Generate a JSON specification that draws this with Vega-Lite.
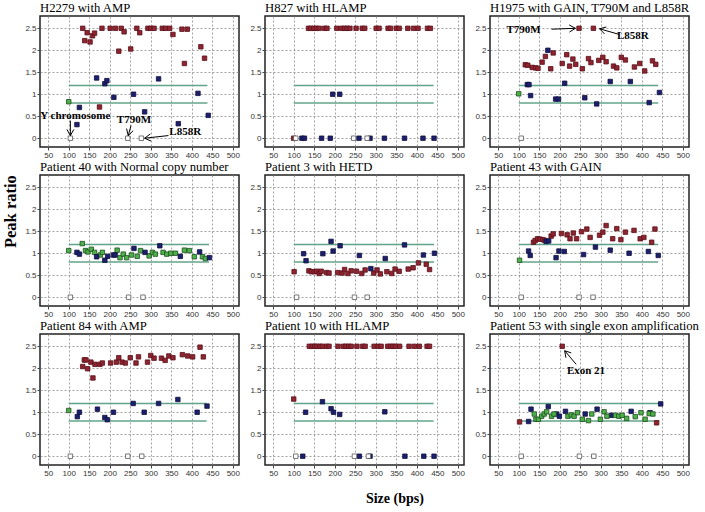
{
"$schema": "https://vega.github.io/schema/vega-lite/v6.json",
"background": "white",
"padding": {"left": 2, "top": 1, "right": 0, "bottom": 0},
"title": {"text": "Peak ratio", "orient": "left", "anchor": "middle", "font": "Liberation Serif", "fontSize": 16.5, "fontWeight": "bold", "color": "black", "offset": 5, "dx": 42},
"vconcat": [{
"data": {"values": [
{"p":"H2279 with AMP","k":"band","x":100,"x2":438,"y":1.2},
{"p":"H2279 with AMP","k":"band","x":100,"x2":438,"y":0.8},
{"p":"H2279 with AMP","k":"r","x":134,"y":2.5},{"p":"H2279 with AMP","k":"r","x":139,"y":2.22},{"p":"H2279 with AMP","k":"r","x":145,"y":2.4},{"p":"H2279 with AMP","k":"r","x":152,"y":2.19},{"p":"H2279 with AMP","k":"r","x":158,"y":2.33},{"p":"H2279 with AMP","k":"r","x":163,"y":2.39},{"p":"H2279 with AMP","k":"r","x":181,"y":2.5},{"p":"H2279 with AMP","k":"r","x":201,"y":2.5},{"p":"H2279 with AMP","k":"r","x":214,"y":2.5},{"p":"H2279 with AMP","k":"r","x":228,"y":2.5},{"p":"H2279 with AMP","k":"r","x":235,"y":2.42},{"p":"H2279 with AMP","k":"r","x":222,"y":1.98},{"p":"H2279 with AMP","k":"r","x":251,"y":2.03},{"p":"H2279 with AMP","k":"r","x":266,"y":2.5},{"p":"H2279 with AMP","k":"r","x":273,"y":2.4},{"p":"H2279 with AMP","k":"r","x":293,"y":2.5},{"p":"H2279 with AMP","k":"r","x":300,"y":2.5},{"p":"H2279 with AMP","k":"r","x":308,"y":2.5},{"p":"H2279 with AMP","k":"r","x":328,"y":2.5},{"p":"H2279 with AMP","k":"r","x":336,"y":2.5},{"p":"H2279 with AMP","k":"r","x":346,"y":2.5},{"p":"H2279 with AMP","k":"r","x":354,"y":2.36},{"p":"H2279 with AMP","k":"r","x":376,"y":2.48},{"p":"H2279 with AMP","k":"r","x":389,"y":2.48},{"p":"H2279 with AMP","k":"r","x":382,"y":1.7},{"p":"H2279 with AMP","k":"r","x":422,"y":2.08},{"p":"H2279 with AMP","k":"r","x":431,"y":1.82},{"p":"H2279 with AMP","k":"r","x":175,"y":0.71},
{"p":"H2279 with AMP","k":"b","x":168,"y":1.37},{"p":"H2279 with AMP","k":"b","x":188,"y":1.24},{"p":"H2279 with AMP","k":"b","x":193,"y":1.31},{"p":"H2279 with AMP","k":"b","x":210,"y":0.93},{"p":"H2279 with AMP","k":"b","x":258,"y":1.0},{"p":"H2279 with AMP","k":"b","x":319,"y":1.35},{"p":"H2279 with AMP","k":"b","x":285,"y":0.6},{"p":"H2279 with AMP","k":"b","x":126,"y":0.7},{"p":"H2279 with AMP","k":"b","x":120,"y":0.31},{"p":"H2279 with AMP","k":"b","x":367,"y":0.33},{"p":"H2279 with AMP","k":"b","x":415,"y":1.02},{"p":"H2279 with AMP","k":"b","x":440,"y":0.52},
{"p":"H2279 with AMP","k":"g","x":100,"y":0.83},
{"p":"H2279 with AMP","k":"o","x":104,"y":0},{"p":"H2279 with AMP","k":"o","x":244,"y":0},{"p":"H2279 with AMP","k":"o","x":277,"y":0},
{"p":"H2279 with AMP","k":"t","x":116,"y":0.5,"t":"Y chromosome"},
{"p":"H2279 with AMP","k":"t","x":259,"y":0.41,"t":"T790M"},
{"p":"H2279 with AMP","k":"t","x":384,"y":0.14,"t":"L858R"},
{"p":"H2279 with AMP","k":"a","x":104,"y":0.4,"x2":104,"y2":0.06},
{"p":"H2279 with AMP","k":"a","x":104,"y":0.06,"x2":95.5,"y2":0.2},
{"p":"H2279 with AMP","k":"a","x":104,"y":0.06,"x2":112.5,"y2":0.2},
{"p":"H2279 with AMP","k":"a","x":252,"y":0.29,"x2":245,"y2":0.06},
{"p":"H2279 with AMP","k":"a","x":245,"y":0.06,"x2":257,"y2":0.17},
{"p":"H2279 with AMP","k":"a","x":245,"y":0.06,"x2":241,"y2":0.22},
{"p":"H2279 with AMP","k":"a","x":343,"y":0.06,"x2":285,"y2":0},
{"p":"H2279 with AMP","k":"a","x":285,"y":0,"x2":300.6,"y2":-0.065},
{"p":"H2279 with AMP","k":"a","x":285,"y":0,"x2":298.7,"y2":0.096},

{"p":"H827 with HLAMP","k":"band","x":100,"x2":441,"y":1.2},
{"p":"H827 with HLAMP","k":"band","x":100,"x2":441,"y":0.8},
{"p":"H827 with HLAMP","k":"r","x":136,"y":2.5},{"p":"H827 with HLAMP","k":"r","x":142,"y":2.5},{"p":"H827 with HLAMP","k":"r","x":149,"y":2.5},{"p":"H827 with HLAMP","k":"r","x":155,"y":2.5},{"p":"H827 with HLAMP","k":"r","x":162,"y":2.5},{"p":"H827 with HLAMP","k":"r","x":175,"y":2.5},{"p":"H827 with HLAMP","k":"r","x":181,"y":2.5},{"p":"H827 with HLAMP","k":"r","x":205,"y":2.5},{"p":"H827 with HLAMP","k":"r","x":217,"y":2.5},{"p":"H827 with HLAMP","k":"r","x":224,"y":2.5},{"p":"H827 with HLAMP","k":"r","x":230,"y":2.5},{"p":"H827 with HLAMP","k":"r","x":237,"y":2.5},{"p":"H827 with HLAMP","k":"r","x":252,"y":2.5},{"p":"H827 with HLAMP","k":"r","x":267,"y":2.5},{"p":"H827 with HLAMP","k":"r","x":273,"y":2.5},{"p":"H827 with HLAMP","k":"r","x":301,"y":2.5},{"p":"H827 with HLAMP","k":"r","x":308,"y":2.5},{"p":"H827 with HLAMP","k":"r","x":330,"y":2.5},{"p":"H827 with HLAMP","k":"r","x":336,"y":2.5},{"p":"H827 with HLAMP","k":"r","x":350,"y":2.5},{"p":"H827 with HLAMP","k":"r","x":357,"y":2.5},{"p":"H827 with HLAMP","k":"r","x":378,"y":2.5},{"p":"H827 with HLAMP","k":"r","x":392,"y":2.5},{"p":"H827 with HLAMP","k":"r","x":403,"y":2.5},{"p":"H827 with HLAMP","k":"r","x":426,"y":2.5},{"p":"H827 with HLAMP","k":"r","x":433,"y":2.5},{"p":"H827 with HLAMP","k":"r","x":100,"y":0},
{"p":"H827 with HLAMP","k":"b","x":195,"y":1},{"p":"H827 with HLAMP","k":"b","x":212,"y":1},{"p":"H827 with HLAMP","k":"b","x":120,"y":0},{"p":"H827 with HLAMP","k":"b","x":126,"y":0},{"p":"H827 with HLAMP","k":"b","x":168,"y":0},{"p":"H827 with HLAMP","k":"b","x":189,"y":0},{"p":"H827 with HLAMP","k":"b","x":259,"y":0},{"p":"H827 with HLAMP","k":"b","x":286,"y":0},{"p":"H827 with HLAMP","k":"b","x":321,"y":0},{"p":"H827 with HLAMP","k":"b","x":370,"y":0},{"p":"H827 with HLAMP","k":"b","x":415,"y":0},{"p":"H827 with HLAMP","k":"b","x":442,"y":0},
{"p":"H827 with HLAMP","k":"o","x":105,"y":0},{"p":"H827 with HLAMP","k":"o","x":246,"y":0},{"p":"H827 with HLAMP","k":"o","x":279,"y":0},

{"p":"H1975 with GAIN, T790M and L858R","k":"band","x":100,"x2":440,"y":1.2},
{"p":"H1975 with GAIN, T790M and L858R","k":"band","x":100,"x2":440,"y":0.8},
{"p":"H1975 with GAIN, T790M and L858R","k":"r","x":247,"y":2.5},{"p":"H1975 with GAIN, T790M and L858R","k":"r","x":282,"y":2.5},{"p":"H1975 with GAIN, T790M and L858R","k":"r","x":116,"y":1.67},{"p":"H1975 with GAIN, T790M and L858R","k":"r","x":122,"y":1.66},{"p":"H1975 with GAIN, T790M and L858R","k":"r","x":133,"y":1.61},{"p":"H1975 with GAIN, T790M and L858R","k":"r","x":141,"y":1.6},{"p":"H1975 with GAIN, T790M and L858R","k":"r","x":147,"y":1.59},{"p":"H1975 with GAIN, T790M and L858R","k":"r","x":157,"y":1.73},{"p":"H1975 with GAIN, T790M and L858R","k":"r","x":165,"y":1.86},{"p":"H1975 with GAIN, T790M and L858R","k":"r","x":178,"y":1.58},{"p":"H1975 with GAIN, T790M and L858R","k":"r","x":184,"y":1.94},{"p":"H1975 with GAIN, T790M and L858R","k":"r","x":206,"y":1.7},{"p":"H1975 with GAIN, T790M and L858R","k":"r","x":217,"y":1.9},{"p":"H1975 with GAIN, T790M and L858R","k":"r","x":224,"y":1.64},{"p":"H1975 with GAIN, T790M and L858R","k":"r","x":232,"y":1.8},{"p":"H1975 with GAIN, T790M and L858R","k":"r","x":239,"y":1.68},{"p":"H1975 with GAIN, T790M and L858R","k":"r","x":255,"y":1.58},{"p":"H1975 with GAIN, T790M and L858R","k":"r","x":270,"y":1.81},{"p":"H1975 with GAIN, T790M and L858R","k":"r","x":276,"y":1.72},{"p":"H1975 with GAIN, T790M and L858R","k":"r","x":295,"y":1.77},{"p":"H1975 with GAIN, T790M and L858R","k":"r","x":305,"y":1.84},{"p":"H1975 with GAIN, T790M and L858R","k":"r","x":313,"y":1.74},{"p":"H1975 with GAIN, T790M and L858R","k":"r","x":331,"y":1.64},{"p":"H1975 with GAIN, T790M and L858R","k":"r","x":339,"y":1.6},{"p":"H1975 with GAIN, T790M and L858R","k":"r","x":350,"y":1.84},{"p":"H1975 with GAIN, T790M and L858R","k":"r","x":360,"y":1.78},{"p":"H1975 with GAIN, T790M and L858R","k":"r","x":382,"y":1.62},{"p":"H1975 with GAIN, T790M and L858R","k":"r","x":395,"y":1.7},{"p":"H1975 with GAIN, T790M and L858R","k":"r","x":407,"y":1.53},{"p":"H1975 with GAIN, T790M and L858R","k":"r","x":426,"y":1.76},{"p":"H1975 with GAIN, T790M and L858R","k":"r","x":434,"y":1.68},
{"p":"H1975 with GAIN, T790M and L858R","k":"b","x":121,"y":1.22},{"p":"H1975 with GAIN, T790M and L858R","k":"b","x":125,"y":1.22},{"p":"H1975 with GAIN, T790M and L858R","k":"b","x":129,"y":0.97},{"p":"H1975 with GAIN, T790M and L858R","k":"b","x":171,"y":2.0},{"p":"H1975 with GAIN, T790M and L858R","k":"b","x":190,"y":0.89},{"p":"H1975 with GAIN, T790M and L858R","k":"b","x":197,"y":0.89},{"p":"H1975 with GAIN, T790M and L858R","k":"b","x":212,"y":1.25},{"p":"H1975 with GAIN, T790M and L858R","k":"b","x":261,"y":0.92},{"p":"H1975 with GAIN, T790M and L858R","k":"b","x":290,"y":0.78},{"p":"H1975 with GAIN, T790M and L858R","k":"b","x":323,"y":1.29},{"p":"H1975 with GAIN, T790M and L858R","k":"b","x":372,"y":1.29},{"p":"H1975 with GAIN, T790M and L858R","k":"b","x":418,"y":0.81},{"p":"H1975 with GAIN, T790M and L858R","k":"b","x":443,"y":1.04},
{"p":"H1975 with GAIN, T790M and L858R","k":"g","x":100,"y":1.01},
{"p":"H1975 with GAIN, T790M and L858R","k":"o","x":106,"y":0},
{"p":"H1975 with GAIN, T790M and L858R","k":"t","x":112,"y":2.47,"t":"T790M"},
{"p":"H1975 with GAIN, T790M and L858R","k":"t","x":378,"y":2.33,"t":"L858R"},
{"p":"H1975 with GAIN, T790M and L858R","k":"a","x":180,"y":2.48,"x2":238,"y2":2.5},
{"p":"H1975 with GAIN, T790M and L858R","k":"a","x":238,"y":2.5,"x2":223,"y2":2.576},
{"p":"H1975 with GAIN, T790M and L858R","k":"a","x":238,"y":2.5,"x2":223.6,"y2":2.414},
{"p":"H1975 with GAIN, T790M and L858R","k":"a","x":345,"y":2.36,"x2":297,"y2":2.49},
{"p":"H1975 with GAIN, T790M and L858R","k":"a","x":297,"y":2.49,"x2":309,"y2":2.374},
{"p":"H1975 with GAIN, T790M and L858R","k":"a","x":297,"y":2.49,"x2":313.5,"y2":2.53},

{"p":"Patient 40 with Normal copy number","k":"band","x":100,"x2":442,"y":1.2},
{"p":"Patient 40 with Normal copy number","k":"band","x":100,"x2":442,"y":0.8},
{"p":"Patient 40 with Normal copy number","k":"g","x":100,"y":1.06},{"p":"Patient 40 with Normal copy number","k":"g","x":133,"y":1.22},{"p":"Patient 40 with Normal copy number","k":"g","x":141,"y":1.06},{"p":"Patient 40 with Normal copy number","k":"g","x":147,"y":1.03},{"p":"Patient 40 with Normal copy number","k":"g","x":155,"y":1.09},{"p":"Patient 40 with Normal copy number","k":"g","x":163,"y":1.02},{"p":"Patient 40 with Normal copy number","k":"g","x":177,"y":0.96},{"p":"Patient 40 with Normal copy number","k":"g","x":182,"y":1.02},{"p":"Patient 40 with Normal copy number","k":"g","x":218,"y":1.07},{"p":"Patient 40 with Normal copy number","k":"g","x":225,"y":0.9},{"p":"Patient 40 with Normal copy number","k":"g","x":233,"y":0.98},{"p":"Patient 40 with Normal copy number","k":"g","x":241,"y":0.9},{"p":"Patient 40 with Normal copy number","k":"g","x":253,"y":0.96},{"p":"Patient 40 with Normal copy number","k":"g","x":267,"y":0.93},{"p":"Patient 40 with Normal copy number","k":"g","x":275,"y":1.06},{"p":"Patient 40 with Normal copy number","k":"g","x":296,"y":0.94},{"p":"Patient 40 with Normal copy number","k":"g","x":304,"y":1.02},{"p":"Patient 40 with Normal copy number","k":"g","x":311,"y":0.98},{"p":"Patient 40 with Normal copy number","k":"g","x":330,"y":1.02},{"p":"Patient 40 with Normal copy number","k":"g","x":339,"y":0.98},{"p":"Patient 40 with Normal copy number","k":"g","x":349,"y":1.0},{"p":"Patient 40 with Normal copy number","k":"g","x":360,"y":1.0},{"p":"Patient 40 with Normal copy number","k":"g","x":382,"y":1.07},{"p":"Patient 40 with Normal copy number","k":"g","x":394,"y":1.06},{"p":"Patient 40 with Normal copy number","k":"g","x":406,"y":0.92},{"p":"Patient 40 with Normal copy number","k":"g","x":426,"y":0.92},{"p":"Patient 40 with Normal copy number","k":"g","x":433,"y":0.88},
{"p":"Patient 40 with Normal copy number","k":"b","x":120,"y":1.02},{"p":"Patient 40 with Normal copy number","k":"b","x":126,"y":0.98},{"p":"Patient 40 with Normal copy number","k":"b","x":168,"y":0.92},{"p":"Patient 40 with Normal copy number","k":"b","x":188,"y":0.84},{"p":"Patient 40 with Normal copy number","k":"b","x":195,"y":0.93},{"p":"Patient 40 with Normal copy number","k":"b","x":209,"y":0.96},{"p":"Patient 40 with Normal copy number","k":"b","x":213,"y":0.96},{"p":"Patient 40 with Normal copy number","k":"b","x":259,"y":1.11},{"p":"Patient 40 with Normal copy number","k":"b","x":286,"y":1.02},{"p":"Patient 40 with Normal copy number","k":"b","x":322,"y":1.17},{"p":"Patient 40 with Normal copy number","k":"b","x":372,"y":0.93},{"p":"Patient 40 with Normal copy number","k":"b","x":419,"y":1.03},{"p":"Patient 40 with Normal copy number","k":"b","x":443,"y":0.9},
{"p":"Patient 40 with Normal copy number","k":"o","x":104,"y":0},{"p":"Patient 40 with Normal copy number","k":"o","x":246,"y":0},{"p":"Patient 40 with Normal copy number","k":"o","x":281,"y":0},

{"p":"Patient 3 with HETD","k":"band","x":100,"x2":442,"y":1.2},
{"p":"Patient 3 with HETD","k":"band","x":100,"x2":442,"y":0.8},
{"p":"Patient 3 with HETD","k":"r","x":101,"y":0.58},{"p":"Patient 3 with HETD","k":"r","x":137,"y":0.6},{"p":"Patient 3 with HETD","k":"r","x":143,"y":0.58},{"p":"Patient 3 with HETD","k":"r","x":150,"y":0.58},{"p":"Patient 3 with HETD","k":"r","x":156,"y":0.59},{"p":"Patient 3 with HETD","k":"r","x":162,"y":0.54},{"p":"Patient 3 with HETD","k":"r","x":167,"y":0.59},{"p":"Patient 3 with HETD","k":"r","x":180,"y":0.56},{"p":"Patient 3 with HETD","k":"r","x":186,"y":0.55},{"p":"Patient 3 with HETD","k":"r","x":207,"y":0.56},{"p":"Patient 3 with HETD","k":"r","x":218,"y":0.55},{"p":"Patient 3 with HETD","k":"r","x":224,"y":0.63},{"p":"Patient 3 with HETD","k":"r","x":232,"y":0.54},{"p":"Patient 3 with HETD","k":"r","x":240,"y":0.6},{"p":"Patient 3 with HETD","k":"r","x":253,"y":0.59},{"p":"Patient 3 with HETD","k":"r","x":266,"y":0.54},{"p":"Patient 3 with HETD","k":"r","x":274,"y":0.62},{"p":"Patient 3 with HETD","k":"r","x":295,"y":0.55},{"p":"Patient 3 with HETD","k":"r","x":303,"y":0.62},{"p":"Patient 3 with HETD","k":"r","x":311,"y":0.53},{"p":"Patient 3 with HETD","k":"r","x":327,"y":0.58},{"p":"Patient 3 with HETD","k":"r","x":339,"y":0.54},{"p":"Patient 3 with HETD","k":"r","x":347,"y":0.64},{"p":"Patient 3 with HETD","k":"r","x":357,"y":0.59},{"p":"Patient 3 with HETD","k":"r","x":379,"y":0.64},{"p":"Patient 3 with HETD","k":"r","x":391,"y":0.67},{"p":"Patient 3 with HETD","k":"r","x":404,"y":0.78},{"p":"Patient 3 with HETD","k":"r","x":423,"y":0.75},{"p":"Patient 3 with HETD","k":"r","x":431,"y":0.63},
{"p":"Patient 3 with HETD","k":"b","x":124,"y":0.99},{"p":"Patient 3 with HETD","k":"b","x":130,"y":0.83},{"p":"Patient 3 with HETD","k":"b","x":171,"y":0.99},{"p":"Patient 3 with HETD","k":"b","x":191,"y":1.27},{"p":"Patient 3 with HETD","k":"b","x":196,"y":1.05},{"p":"Patient 3 with HETD","k":"b","x":213,"y":1.17},{"p":"Patient 3 with HETD","k":"b","x":260,"y":0.95},{"p":"Patient 3 with HETD","k":"b","x":288,"y":0.65},{"p":"Patient 3 with HETD","k":"b","x":323,"y":0.88},{"p":"Patient 3 with HETD","k":"b","x":370,"y":1.19},{"p":"Patient 3 with HETD","k":"b","x":416,"y":0.96},{"p":"Patient 3 with HETD","k":"b","x":443,"y":1.0},
{"p":"Patient 3 with HETD","k":"o","x":107,"y":0},{"p":"Patient 3 with HETD","k":"o","x":248,"y":0},{"p":"Patient 3 with HETD","k":"o","x":279,"y":0},

{"p":"Patient 43 with GAIN","k":"band","x":100,"x2":440,"y":1.2},
{"p":"Patient 43 with GAIN","k":"band","x":100,"x2":440,"y":0.8},
{"p":"Patient 43 with GAIN","k":"r","x":136,"y":1.25},{"p":"Patient 43 with GAIN","k":"r","x":140,"y":1.29},{"p":"Patient 43 with GAIN","k":"r","x":146,"y":1.33},{"p":"Patient 43 with GAIN","k":"r","x":152,"y":1.32},{"p":"Patient 43 with GAIN","k":"r","x":159,"y":1.31},{"p":"Patient 43 with GAIN","k":"r","x":164,"y":1.29},{"p":"Patient 43 with GAIN","k":"r","x":179,"y":1.39},{"p":"Patient 43 with GAIN","k":"r","x":184,"y":1.44},{"p":"Patient 43 with GAIN","k":"r","x":204,"y":1.45},{"p":"Patient 43 with GAIN","k":"r","x":218,"y":1.42},{"p":"Patient 43 with GAIN","k":"r","x":225,"y":1.33},{"p":"Patient 43 with GAIN","k":"r","x":233,"y":1.46},{"p":"Patient 43 with GAIN","k":"r","x":241,"y":1.33},{"p":"Patient 43 with GAIN","k":"r","x":253,"y":1.49},{"p":"Patient 43 with GAIN","k":"r","x":266,"y":1.55},{"p":"Patient 43 with GAIN","k":"r","x":274,"y":1.36},{"p":"Patient 43 with GAIN","k":"r","x":297,"y":1.41},{"p":"Patient 43 with GAIN","k":"r","x":305,"y":1.48},{"p":"Patient 43 with GAIN","k":"r","x":313,"y":1.63},{"p":"Patient 43 with GAIN","k":"r","x":329,"y":1.33},{"p":"Patient 43 with GAIN","k":"r","x":339,"y":1.56},{"p":"Patient 43 with GAIN","k":"r","x":349,"y":1.31},{"p":"Patient 43 with GAIN","k":"r","x":360,"y":1.48},{"p":"Patient 43 with GAIN","k":"r","x":381,"y":1.52},{"p":"Patient 43 with GAIN","k":"r","x":396,"y":1.33},{"p":"Patient 43 with GAIN","k":"r","x":405,"y":1.36},{"p":"Patient 43 with GAIN","k":"r","x":424,"y":1.25},{"p":"Patient 43 with GAIN","k":"r","x":432,"y":1.55},
{"p":"Patient 43 with GAIN","k":"b","x":124,"y":1.05},{"p":"Patient 43 with GAIN","k":"b","x":128,"y":0.95},{"p":"Patient 43 with GAIN","k":"b","x":167,"y":1.27},{"p":"Patient 43 with GAIN","k":"b","x":173,"y":1.28},{"p":"Patient 43 with GAIN","k":"b","x":191,"y":0.9},{"p":"Patient 43 with GAIN","k":"b","x":198,"y":1.05},{"p":"Patient 43 with GAIN","k":"b","x":211,"y":1.04},{"p":"Patient 43 with GAIN","k":"b","x":258,"y":0.97},{"p":"Patient 43 with GAIN","k":"b","x":287,"y":1.14},{"p":"Patient 43 with GAIN","k":"b","x":323,"y":1.07},{"p":"Patient 43 with GAIN","k":"b","x":369,"y":1.0},{"p":"Patient 43 with GAIN","k":"b","x":416,"y":1.04},{"p":"Patient 43 with GAIN","k":"b","x":440,"y":0.95},
{"p":"Patient 43 with GAIN","k":"g","x":102,"y":0.84},
{"p":"Patient 43 with GAIN","k":"o","x":106,"y":0},{"p":"Patient 43 with GAIN","k":"o","x":247,"y":0},{"p":"Patient 43 with GAIN","k":"o","x":281,"y":0},

{"p":"Patient 84 with AMP","k":"band","x":100,"x2":436,"y":1.2},
{"p":"Patient 84 with AMP","k":"band","x":100,"x2":436,"y":0.8},
{"p":"Patient 84 with AMP","k":"r","x":134,"y":2.04},{"p":"Patient 84 with AMP","k":"r","x":138,"y":2.19},{"p":"Patient 84 with AMP","k":"r","x":142,"y":2.19},{"p":"Patient 84 with AMP","k":"r","x":146,"y":1.99},{"p":"Patient 84 with AMP","k":"r","x":154,"y":2.14},{"p":"Patient 84 with AMP","k":"r","x":159,"y":1.78},{"p":"Patient 84 with AMP","k":"r","x":164,"y":2.09},{"p":"Patient 84 with AMP","k":"r","x":176,"y":2.09},{"p":"Patient 84 with AMP","k":"r","x":182,"y":2.12},{"p":"Patient 84 with AMP","k":"r","x":202,"y":2.12},{"p":"Patient 84 with AMP","k":"r","x":216,"y":2.14},{"p":"Patient 84 with AMP","k":"r","x":222,"y":2.24},{"p":"Patient 84 with AMP","k":"r","x":230,"y":2.14},{"p":"Patient 84 with AMP","k":"r","x":238,"y":2.12},{"p":"Patient 84 with AMP","k":"r","x":250,"y":2.24},{"p":"Patient 84 with AMP","k":"r","x":264,"y":2.12},{"p":"Patient 84 with AMP","k":"r","x":270,"y":2.26},{"p":"Patient 84 with AMP","k":"r","x":292,"y":2.14},{"p":"Patient 84 with AMP","k":"r","x":300,"y":2.29},{"p":"Patient 84 with AMP","k":"r","x":308,"y":2.23},{"p":"Patient 84 with AMP","k":"r","x":326,"y":2.23},{"p":"Patient 84 with AMP","k":"r","x":335,"y":2.18},{"p":"Patient 84 with AMP","k":"r","x":344,"y":2.28},{"p":"Patient 84 with AMP","k":"r","x":354,"y":2.24},{"p":"Patient 84 with AMP","k":"r","x":377,"y":2.31},{"p":"Patient 84 with AMP","k":"r","x":390,"y":2.28},{"p":"Patient 84 with AMP","k":"r","x":402,"y":2.26},{"p":"Patient 84 with AMP","k":"r","x":420,"y":2.48},{"p":"Patient 84 with AMP","k":"r","x":428,"y":2.26},
{"p":"Patient 84 with AMP","k":"b","x":121,"y":0.9},{"p":"Patient 84 with AMP","k":"b","x":126,"y":1.0},{"p":"Patient 84 with AMP","k":"b","x":170,"y":1.07},{"p":"Patient 84 with AMP","k":"b","x":188,"y":0.88},{"p":"Patient 84 with AMP","k":"b","x":194,"y":0.83},{"p":"Patient 84 with AMP","k":"b","x":209,"y":1.0},{"p":"Patient 84 with AMP","k":"b","x":257,"y":1.2},{"p":"Patient 84 with AMP","k":"b","x":284,"y":1.0},{"p":"Patient 84 with AMP","k":"b","x":319,"y":1.2},{"p":"Patient 84 with AMP","k":"b","x":366,"y":1.29},{"p":"Patient 84 with AMP","k":"b","x":413,"y":1.0},{"p":"Patient 84 with AMP","k":"b","x":437,"y":1.14},
{"p":"Patient 84 with AMP","k":"g","x":100,"y":1.04},
{"p":"Patient 84 with AMP","k":"o","x":104,"y":0},{"p":"Patient 84 with AMP","k":"o","x":244,"y":0},{"p":"Patient 84 with AMP","k":"o","x":278,"y":0},

{"p":"Patient 10 with HLAMP","k":"band","x":100,"x2":441,"y":1.2},
{"p":"Patient 10 with HLAMP","k":"band","x":100,"x2":441,"y":0.8},
{"p":"Patient 10 with HLAMP","k":"r","x":138,"y":2.5},{"p":"Patient 10 with HLAMP","k":"r","x":145,"y":2.5},{"p":"Patient 10 with HLAMP","k":"r","x":151,"y":2.5},{"p":"Patient 10 with HLAMP","k":"r","x":157,"y":2.5},{"p":"Patient 10 with HLAMP","k":"r","x":164,"y":2.5},{"p":"Patient 10 with HLAMP","k":"r","x":170,"y":2.5},{"p":"Patient 10 with HLAMP","k":"r","x":180,"y":2.5},{"p":"Patient 10 with HLAMP","k":"r","x":186,"y":2.5},{"p":"Patient 10 with HLAMP","k":"r","x":208,"y":2.5},{"p":"Patient 10 with HLAMP","k":"r","x":221,"y":2.5},{"p":"Patient 10 with HLAMP","k":"r","x":227,"y":2.5},{"p":"Patient 10 with HLAMP","k":"r","x":234,"y":2.5},{"p":"Patient 10 with HLAMP","k":"r","x":240,"y":2.5},{"p":"Patient 10 with HLAMP","k":"r","x":254,"y":2.5},{"p":"Patient 10 with HLAMP","k":"r","x":268,"y":2.5},{"p":"Patient 10 with HLAMP","k":"r","x":274,"y":2.5},{"p":"Patient 10 with HLAMP","k":"r","x":296,"y":2.5},{"p":"Patient 10 with HLAMP","k":"r","x":306,"y":2.5},{"p":"Patient 10 with HLAMP","k":"r","x":313,"y":2.5},{"p":"Patient 10 with HLAMP","k":"r","x":329,"y":2.5},{"p":"Patient 10 with HLAMP","k":"r","x":336,"y":2.5},{"p":"Patient 10 with HLAMP","k":"r","x":342,"y":2.5},{"p":"Patient 10 with HLAMP","k":"r","x":348,"y":2.5},{"p":"Patient 10 with HLAMP","k":"r","x":358,"y":2.5},{"p":"Patient 10 with HLAMP","k":"r","x":381,"y":2.5},{"p":"Patient 10 with HLAMP","k":"r","x":394,"y":2.5},{"p":"Patient 10 with HLAMP","k":"r","x":406,"y":2.5},{"p":"Patient 10 with HLAMP","k":"r","x":425,"y":2.5},{"p":"Patient 10 with HLAMP","k":"r","x":431,"y":2.5},{"p":"Patient 10 with HLAMP","k":"r","x":100,"y":1.3},
{"p":"Patient 10 with HLAMP","k":"b","x":129,"y":1.0},{"p":"Patient 10 with HLAMP","k":"b","x":170,"y":1.24},{"p":"Patient 10 with HLAMP","k":"b","x":191,"y":1.08},{"p":"Patient 10 with HLAMP","k":"b","x":197,"y":1.0},{"p":"Patient 10 with HLAMP","k":"b","x":212,"y":0.95},{"p":"Patient 10 with HLAMP","k":"b","x":322,"y":1.01},{"p":"Patient 10 with HLAMP","k":"b","x":122,"y":0},{"p":"Patient 10 with HLAMP","k":"b","x":260,"y":0},{"p":"Patient 10 with HLAMP","k":"b","x":286,"y":0},{"p":"Patient 10 with HLAMP","k":"b","x":371,"y":0},{"p":"Patient 10 with HLAMP","k":"b","x":417,"y":0},{"p":"Patient 10 with HLAMP","k":"b","x":442,"y":0},
{"p":"Patient 10 with HLAMP","k":"o","x":105,"y":0},{"p":"Patient 10 with HLAMP","k":"o","x":248,"y":0},{"p":"Patient 10 with HLAMP","k":"o","x":282,"y":0},

{"p":"Patient 53 with single exon amplification","k":"band","x":100,"x2":443,"y":1.2},
{"p":"Patient 53 with single exon amplification","k":"band","x":100,"x2":443,"y":0.8},
{"p":"Patient 53 with single exon amplification","k":"r","x":206,"y":2.5},{"p":"Patient 53 with single exon amplification","k":"r","x":102,"y":0.78},{"p":"Patient 53 with single exon amplification","k":"r","x":436,"y":0.76},
{"p":"Patient 53 with single exon amplification","k":"b","x":124,"y":0.79},{"p":"Patient 53 with single exon amplification","k":"b","x":130,"y":1.07},{"p":"Patient 53 with single exon amplification","k":"b","x":172,"y":1.13},{"p":"Patient 53 with single exon amplification","k":"b","x":192,"y":0.96},{"p":"Patient 53 with single exon amplification","k":"b","x":199,"y":0.91},{"p":"Patient 53 with single exon amplification","k":"b","x":214,"y":1.02},{"p":"Patient 53 with single exon amplification","k":"b","x":262,"y":0.96},{"p":"Patient 53 with single exon amplification","k":"b","x":291,"y":1.07},{"p":"Patient 53 with single exon amplification","k":"b","x":326,"y":0.93},{"p":"Patient 53 with single exon amplification","k":"b","x":374,"y":1.02},{"p":"Patient 53 with single exon amplification","k":"b","x":420,"y":0.99},{"p":"Patient 53 with single exon amplification","k":"b","x":446,"y":1.19},
{"p":"Patient 53 with single exon amplification","k":"g","x":138,"y":0.96},{"p":"Patient 53 with single exon amplification","k":"g","x":142,"y":0.84},{"p":"Patient 53 with single exon amplification","k":"g","x":148,"y":0.84},{"p":"Patient 53 with single exon amplification","k":"g","x":156,"y":0.91},{"p":"Patient 53 with single exon amplification","k":"g","x":162,"y":0.96},{"p":"Patient 53 with single exon amplification","k":"g","x":168,"y":1.01},{"p":"Patient 53 with single exon amplification","k":"g","x":180,"y":0.91},{"p":"Patient 53 with single exon amplification","k":"g","x":186,"y":0.96},{"p":"Patient 53 with single exon amplification","k":"g","x":220,"y":0.91},{"p":"Patient 53 with single exon amplification","k":"g","x":228,"y":0.94},{"p":"Patient 53 with single exon amplification","k":"g","x":235,"y":0.91},{"p":"Patient 53 with single exon amplification","k":"g","x":243,"y":0.99},{"p":"Patient 53 with single exon amplification","k":"g","x":255,"y":0.84},{"p":"Patient 53 with single exon amplification","k":"g","x":270,"y":0.81},{"p":"Patient 53 with single exon amplification","k":"g","x":278,"y":0.96},{"p":"Patient 53 with single exon amplification","k":"g","x":299,"y":0.84},{"p":"Patient 53 with single exon amplification","k":"g","x":308,"y":1.01},{"p":"Patient 53 with single exon amplification","k":"g","x":315,"y":0.91},{"p":"Patient 53 with single exon amplification","k":"g","x":336,"y":0.93},{"p":"Patient 53 with single exon amplification","k":"g","x":344,"y":0.91},{"p":"Patient 53 with single exon amplification","k":"g","x":352,"y":0.93},{"p":"Patient 53 with single exon amplification","k":"g","x":363,"y":0.86},{"p":"Patient 53 with single exon amplification","k":"g","x":384,"y":0.9},{"p":"Patient 53 with single exon amplification","k":"g","x":398,"y":0.99},{"p":"Patient 53 with single exon amplification","k":"g","x":408,"y":0.84},{"p":"Patient 53 with single exon amplification","k":"g","x":418,"y":0.97},{"p":"Patient 53 with single exon amplification","k":"g","x":427,"y":0.96},
{"p":"Patient 53 with single exon amplification","k":"o","x":106,"y":0},{"p":"Patient 53 with single exon amplification","k":"o","x":248,"y":0},{"p":"Patient 53 with single exon amplification","k":"o","x":283,"y":0},
{"p":"Patient 53 with single exon amplification","k":"t","x":264,"y":1.93,"t":"Exon 21"},
{"p":"Patient 53 with single exon amplification","k":"a","x":240,"y":2.09,"x2":212,"y2":2.4},
{"p":"Patient 53 with single exon amplification","k":"a","x":212,"y":2.4,"x2":215,"y2":2.24},
{"p":"Patient 53 with single exon amplification","k":"a","x":212,"y":2.4,"x2":228,"y2":2.35}
]},
"title": {"text": "Size (bps)", "orient": "bottom", "anchor": "middle", "dx": 33, "offset": 14, "font": "Liberation Serif", "fontSize": 14, "fontWeight": "bold", "color": "black"},
"facet": {"field": "p", "type": "nominal", "title": null,
  "sort": ["H2279 with AMP","H827 with HLAMP","H1975 with GAIN, T790M and L858R","Patient 40 with Normal copy number","Patient 3 with HETD","Patient 43 with GAIN","Patient 84 with AMP","Patient 10 with HLAMP","Patient 53 with single exon amplification"],
  "header": {"labelFont": "Liberation Serif", "labelFontSize": 12.7, "labelColor": "black", "labelAnchor": "start", "labelPadding": 1, "labelLimit": 0}},
"columns": 3,
"bounds": "flush",
"spacing": {"row": 28, "column": 26},
"resolve": {"axis": {"x": "independent", "y": "independent"}},
"spec": {
  "width": 199, "height": 131,
  "encoding": {
    "x": {"field": "x", "type": "quantitative", "scale": {"domain": [30, 515], "nice": false, "zero": false}, "axis": {"title": null, "values": [50,100,150,200,250,300,350,400,450,500], "labelOverlap": false, "labelSeparation": 0}},
    "y": {"field": "y", "type": "quantitative", "scale": {"domain": [-0.2, 2.78], "nice": false, "zero": false}, "axis": {"title": null, "values": [0,0.5,1,1.5,2,2.5], "format": "~g", "labelOverlap": false, "labelSeparation": 0}}
  },
  "layer": [
    {"transform": [{"filter": {"field": "k", "equal": "band"}}],
     "mark": {"type": "rule", "color": "#62a48a", "strokeWidth": 1.6},
     "encoding": {"x2": {"field": "x2"}}},
    {"transform": [{"filter": {"field": "k", "oneOf": ["r","b","g","o"]}}],
     "mark": {"type": "square", "size": 20, "strokeWidth": 0.8, "opacity": 1},
     "encoding": {
       "fill": {"field": "k", "type": "nominal", "scale": {"domain": ["r","b","g","o"], "range": ["#8e2430","#1c1f6e","#4db04a","#ffffff"]}, "legend": null},
       "stroke": {"field": "k", "type": "nominal", "scale": {"domain": ["r","b","g","o"], "range": ["#5a121b","#10123f","#1f4f1f","#555555"]}, "legend": null}
     }},
    {"transform": [{"filter": {"field": "k", "equal": "a"}}],
     "mark": {"type": "rule", "color": "black", "strokeWidth": 1},
     "encoding": {"x2": {"field": "x2"}, "y2": {"field": "y2"}}},
    {"transform": [{"filter": {"field": "k", "equal": "t"}}],
     "mark": {"type": "text", "font": "Liberation Serif", "fontWeight": "bold", "fontSize": 11, "color": "black", "baseline": "middle"},
     "encoding": {"text": {"field": "t"}}}
  ]
}
}],
"config": {
  "view": {"stroke": "#222", "strokeWidth": 1.5},
  "axis": {"domain": false, "grid": true, "gridDash": [2, 2], "gridColor": "#8a8a8a", "gridWidth": 0.8, "tickColor": "#444", "tickSize": 3, "labelFont": "Liberation Sans", "labelFontSize": 8, "labelColor": "#333", "labelPadding": 1, "labelOverlap": false, "labelFlush": false}
}
}
